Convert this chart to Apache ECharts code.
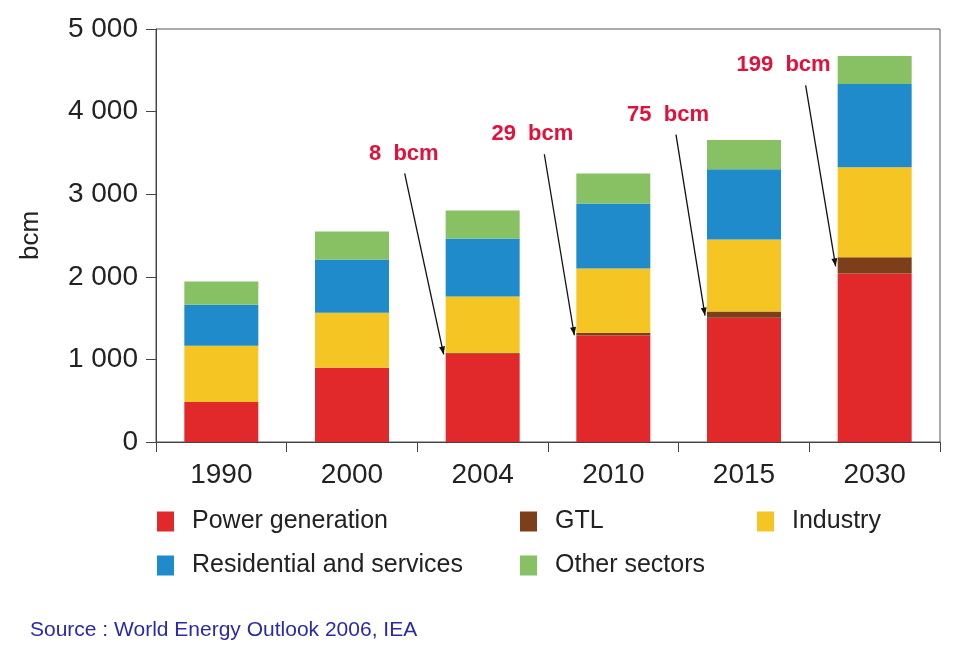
<!DOCTYPE html>
<html>
<head>
<meta charset="utf-8">
<script src="https://cdn.jsdelivr.net/npm/echarts@6/dist/echarts.min.js"></script>
<style>
  html, body { margin: 0; padding: 0; background: #fff; }
  #main { width: 960px; height: 645px; }
</style>
</head>
<body>
<div id="main"></div>
<script>
// ---- Data ----
const categories = ['1990', '2000', '2004', '2010', '2015', '2030'];
const powerGeneration = [485, 898, 1068, 1290, 1505, 2039];
const gtl = [0, 0, 8, 29, 75, 199];
const industry = [680, 668, 684, 781, 873, 1087];
const residential = [498, 643, 704, 788, 850, 1008];
const otherSectors = [279, 340, 339, 364, 352, 339];
const yTicks = [0, 1000, 2000, 3000, 4000, 5000];
const annotatedIdx = [2, 3, 4, 5];

const seriesNames = ['Power generation', 'GTL', 'Industry', 'Residential and services', 'Other sectors'];
const seriesData = [powerGeneration, gtl, industry, residential, otherSectors];
const colors = ['#E1282B', '#7C3F19', '#F4C523', '#1F8BCB', '#87C163'];

const FONT = 'Liberation Sans, Arial, sans-serif';
const chart = echarts.init(document.getElementById('main'), null, { renderer: 'canvas' });

const legendPos = [
  { left: 157, top: 509 },
  { left: 520, top: 509 },
  { left: 757, top: 509 },
  { left: 157, top: 553 },
  { left: 520, top: 553 }
];
// arrow start offsets (style only)
const arrowDx = [-39, -30, -29, -30];
const textDx = [34, 29, 33, 25];

const option = {
  animation: false,
  backgroundColor: '#ffffff',
  color: colors,
  title: {
    text: 'Source : World Energy Outlook 2006, IEA',
    left: 25, top: 615,
    textStyle: { fontFamily: FONT, fontSize: 21, fontWeight: 'normal', color: '#2A2AA8' }
  },
  legend: seriesNames.map((n, i) => ({
    data: [n],
    left: legendPos[i].left, top: legendPos[i].top,
    icon: 'rect', itemWidth: 17, itemHeight: 20,
    padding: 0,
    textStyle: { fontFamily: FONT, fontSize: 25, color: '#222', padding: [0, 0, 0, 13] }
  })),
  grid: {
    left: 156, right: 20, top: 29, bottom: 203,
    show: true, borderColor: '#555', borderWidth: 1, backgroundColor: 'transparent'
  },
  xAxis: {
    type: 'category',
    data: categories,
    axisLine: { lineStyle: { color: '#444', width: 1 } },
    axisTick: { show: true, length: 10, alignWithLabel: false, lineStyle: { color: '#444' } },
    axisLabel: { fontFamily: FONT, fontSize: 28, color: '#222', margin: 19 }
  },
  yAxis: {
    type: 'value',
    min: yTicks[0], max: yTicks[yTicks.length - 1], interval: 1000,
    name: 'bcm', nameLocation: 'middle', nameRotate: 90, nameGap: 112,
    nameTextStyle: { fontFamily: FONT, fontSize: 26, color: '#222' },
    axisLine: { show: true, lineStyle: { color: '#444', width: 1 } },
    axisTick: { show: true, length: 10, lineStyle: { color: '#444' } },
    splitLine: { show: false },
    axisLabel: {
      fontFamily: FONT, fontSize: 28, color: '#222', margin: 18,
      formatter: v => String(v).replace(/\B(?=(\d{3})+(?!\d))/g, ' ')
    }
  },
  series: seriesNames.map((n, i) => ({
    name: n, type: 'bar', stack: 'total', barWidth: 74,
    data: seriesData[i],
    itemStyle: { color: colors[i] }
  }))
};
chart.setOption(option);

// annotations for GTL, positioned from data
const graphics = [];
annotatedIdx.forEach((i, k) => {
  const base = chart.convertToPixel({ gridIndex: 0 }, [i, powerGeneration[i] + gtl[i] / 2]);
  const bx = base[0] - 37;
  const ex = bx - 2, ey = base[1] + 1;
  const sx = ex + arrowDx[k], sy = ey - 181;
  graphics.push({
    type: 'line', silent: true,
    shape: { x1: sx, y1: sy, x2: ex, y2: ey },
    style: { stroke: '#111', lineWidth: 1.3 }
  });
  const ang = Math.atan2(ey - sy, ex - sx);
  const L = 8, W = 3;
  const bxh = ex - L * Math.cos(ang), byh = ey - L * Math.sin(ang);
  graphics.push({
    type: 'polygon', silent: true,
    shape: { points: [[ex, ey], [bxh + W * Math.sin(ang), byh - W * Math.cos(ang)], [bxh - W * Math.sin(ang), byh + W * Math.cos(ang)]] },
    style: { fill: '#111' }
  });
  graphics.push({
    type: 'text', silent: true,
    x: sx + textDx[k], y: sy - 9,
    style: {
      text: gtl[i] + '  bcm', fill: '#E3103B',
      font: 'bold 22px Liberation Sans, Arial, sans-serif',
      align: 'right', verticalAlign: 'bottom'
    }
  });
});
chart.setOption({ graphic: graphics });
</script>
</body>
</html>
